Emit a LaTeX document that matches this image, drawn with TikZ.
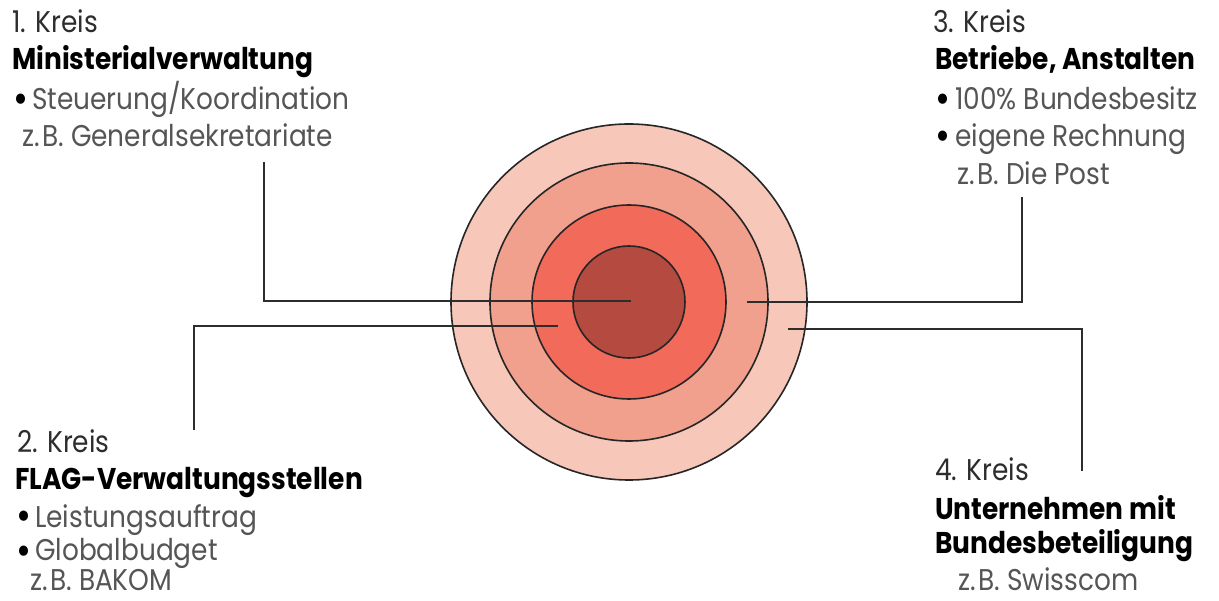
\documentclass[tikz,border=0pt]{standalone}
\usepackage{fontspec}
\setmainfont{Poppins}[FakeStretch=0.88]
\definecolor{ring1}{RGB}{247,199,185}
\definecolor{ring2}{RGB}{240,160,140}
\definecolor{ring3}{RGB}{241,106,90}
\definecolor{ring4}{RGB}{180,74,64}
\definecolor{kreisgrey}{RGB}{45,45,45}
\definecolor{itemgrey}{RGB}{85,85,85}
\definecolor{linegrey}{RGB}{45,45,45}
\newcommand{\zB}{z.\kern2.5pt B.}
\begin{document}
\begin{tikzpicture}[x=1pt,y=-1pt,
  ring/.style={circle, draw=black!85, line width=1.6pt, inner sep=0, minimum size=#1},
  lbl/.style={anchor=base west, inner sep=0, text depth=0pt, font=\fontsize{30}{30}\selectfont, text=kreisgrey},
  head/.style={anchor=base west, inner sep=0, text depth=0pt, font=\fontsize{30}{30}\selectfont\bfseries, text=black},
  item/.style={anchor=base west, inner sep=0, text depth=0pt, font=\fontsize{30}{30}\selectfont, text=itemgrey},
  bul/.style={anchor=base west, inner sep=0, text depth=0pt, font=\fontsize{34}{34}\selectfont\bfseries, text=black},
  conn/.style={draw=linegrey, line width=2pt}]
\useasboundingbox (0,0) rectangle (1219,601);
% rings
\node[ring=356pt, fill=ring1] (r1) at (629,302) {};
\node[ring=278pt, fill=ring2] (r2) at (629,302) {};
\node[ring=194pt, fill=ring3] (r3) at (629,302) {};
\node[ring=112pt, fill=ring4] (r4) at (629,302) {};
% block 1
\node[lbl]  (k1)  at (12,33)  {1. Kreis};
\node[head] (h1)  at (12,70)  {Ministerialverwaltung};
\node[bul]  (b1a) at (13,111) {•};
\node[item] (t1a) at (32,110) {Steuerung/Koordination};
\node[item] (t1b) at (22,147) {\zB\ Generalsekretariate};
% block 3
\node[lbl]  (k3)  at (933,33)  {3. Kreis};
\node[head] (h3)  at (935,70)  {Betriebe, Anstalten};
\node[bul]  (b3a) at (935,111) {•};
\node[item] (t3a) at (955,110) {100\% Bundesbesitz};
\node[bul]  (b3b) at (935,148) {•};
\node[item] (t3b) at (955,147) {eigene Rechnung};
\node[item] (t3c) at (957,185) {\zB\ Die Post};
% block 2
\node[lbl]  (k2)  at (17,453) {2. Kreis};
\node[head] (h2)  at (15,490) {FLAG-Verwaltungsstellen};
\node[bul]  (b2a) at (16,528) {•};
\node[item] (t2a) at (35,527) {Leistungsauftrag};
\node[bul]  (b2b) at (16,562) {•};
\node[item] (t2b) at (35,561) {Globalbudget};
\node[item] (t2c) at (30,590) {\zB\ BAKOM};
% block 4
\node[lbl]  (k4)  at (935,481) {4. Kreis};
\node[head] (h4a) at (935,519) {Unternehmen mit};
\node[head] (h4b) at (935,554) {Bundesbeteiligung};
\node[item] (t4c) at (958,590) {\zB\ Swisscom};
% connector ends
\coordinate (s1) at (264,162);
\coordinate (e1) at (631,301);
\coordinate (s2) at (194,430);
\coordinate (e2) at (558,326);
\coordinate (s3) at (1022,197);
\coordinate (e3) at (747,302);
\coordinate (s4) at (1082,471);
\coordinate (e4) at (788,329);
\draw[conn] (s1) |- (e1);
\draw[conn] (s2) |- (e2);
\draw[conn] (s3) |- (e3);
\draw[conn] (s4) |- (e4);
\end{tikzpicture}
\end{document}
